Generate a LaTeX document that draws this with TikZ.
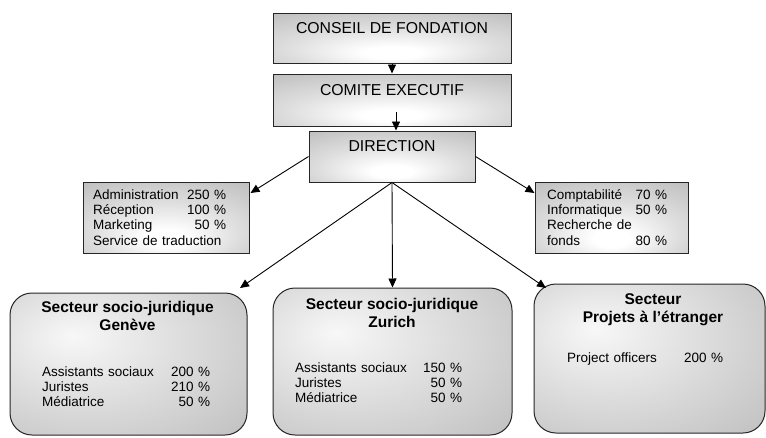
\documentclass[tikz,border=0pt]{standalone}
\usepackage{fontspec}
\setmainfont{Liberation Sans}
\usetikzlibrary{arrows.meta,calc}
\definecolor{shadeout}{RGB}{184,184,184}
\definecolor{shadedark}{RGB}{165,165,165}
\definecolor{shademid}{RGB}{222,222,222}
\pgfdeclareradialshading{boxshade}{\pgfpoint{0bp}{-16bp}}{color(0bp)=(white); color(6bp)=(white); color(22bp)=(shademid); color(45bp)=(shadeout); color(75bp)=(shadedark)}
\pgfdeclareradialshading{roundshade}{\pgfpoint{-12bp}{10bp}}{color(0bp)=(white!97!black); color(20bp)=(shademid); color(50bp)=(shadeout); color(85bp)=(shadedark)}
\begin{document}
\begin{tikzpicture}[x=1pt,y=-1pt,
  box/.style={draw=black!85, line width=1pt, shade, shading=boxshade, rectangle, inner sep=0pt},
  rbox/.style={draw=black!85, line width=1pt, shade, shading=roundshade, rounded corners=22pt, rectangle, inner sep=0pt},
  toptext/.style={font=\fontsize{15.8}{18}\selectfont, inner sep=0pt, anchor=base},
  list/.style={font=\fontsize{13.5}{15.2}\selectfont, inner sep=0pt, anchor=base west, align=left},
  title/.style={font=\bfseries\fontsize{15.5}{18}\selectfont, inner sep=0pt, anchor=base, align=center},
  arr/.style={line width=0.9pt, -{Triangle[length=9pt,width=8pt]}}]
\useasboundingbox (0,0) rectangle (766,437);

% boxes
\node[box, minimum width=238pt, minimum height=50pt] (conseil) at (392,38) {};
\node[box, minimum width=238pt, minimum height=52pt] (comite) at (392,100) {};
\node[box, minimum width=166pt, minimum height=51pt] (direction) at (392,156.5) {};
\node[box, minimum width=166pt, minimum height=71pt] (admin) at (166,217.5) {};
\node[box, minimum width=153pt, minimum height=71pt] (compta) at (611.5,217.5) {};
\node[rbox, minimum width=237pt, minimum height=142pt] (geneve) at (128.5,364) {};
\node[rbox, minimum width=239pt, minimum height=147pt] (zurich) at (392.5,361.5) {};
\node[rbox, minimum width=231pt, minimum height=149pt] (projets) at (649.5,358.5) {};

% texts
\node[toptext] (tconseil) at (392,33.5) {CONSEIL DE FONDATION};
\node[toptext] (tcomite) at (392,95.5) {COMITE EXECUTIF};
\node[toptext] (tdirection) at (392,151.5) {DIRECTION};

\node[list, text width=133pt] (ladmin) at (93,199.5) {Administration\hfill 250 \%\\Réception\hfill 100 \%\\Marketing\hfill 50 \%\\Service de traduction};
\node[list, text width=120pt] (lcompta) at (547,199.5) {Comptabilité\hfill 70 \%\\Informatique\hfill 50 \%\\Recherche de\\fonds\hfill 80 \%};

\node[title] (tgeneve) at (127.5,330) {Secteur socio-juridique\\Genève};
\node[title] (tzurich) at (392,327) {Secteur socio-juridique\\Zurich};
\node[title] (tprojets) at (653,322) {Secteur\\Projets à l’étranger};

\node[list, text width=168pt] (lgeneve) at (42,376.5) {Assistants sociaux\hfill 200 \%\\Juristes\hfill 210 \%\\Médiatrice\hfill 50 \%};
\node[list, text width=167pt] (lzurich) at (295,372.5) {Assistants sociaux\hfill 150 \%\\Juristes\hfill 50 \%\\Médiatrice\hfill 50 \%};
\node[list, text width=156pt] (lprojets) at (567,362.5) {Project officers\hfill 200 \%};

% connectors
\draw[arr] (conseil.south) -- (comite.north);
\coordinate (c2) at (396,112);
\draw[arr] (c2) -- (c2 |- direction.north);
\draw[arr] (direction.west) -- ($(admin.east)+(1,-24.5)$);
\draw[arr] (direction.east) -- ($(compta.west)+(0,-24.5)$);
\coordinate (tg) at (240,288);
\coordinate (tp) at (546,288);
\draw[arr] (direction.south) -- (tg);
\draw[arr] (direction.south) -- (zurich.north);
\draw[arr] (direction.south) -- (tp);
\end{tikzpicture}
\end{document}
